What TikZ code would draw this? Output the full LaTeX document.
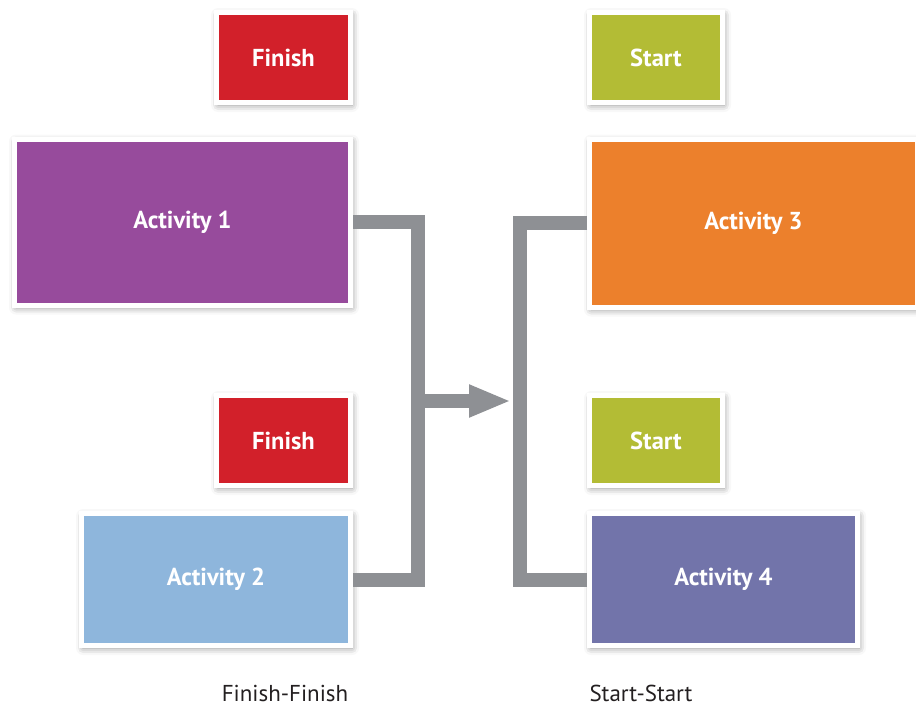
\documentclass[tikz,border=0pt]{standalone}
\usepackage{fontspec}
\setmainfont{PT Sans}
\usetikzlibrary{arrows.meta,shadows.blur}
\definecolor{finred}{HTML}{D2202A}
\definecolor{startgreen}{HTML}{B3BC35}
\definecolor{actpurple}{HTML}{974B9C}
\definecolor{actblue}{HTML}{8EB6DC}
\definecolor{actorange}{HTML}{EC802C}
\definecolor{actviolet}{HTML}{7274AA}
\definecolor{conngray}{HTML}{8E9094}
\definecolor{labelgray}{HTML}{231F20}
\begin{document}
\begin{tikzpicture}[x=1pt,y=-1pt,
  box/.style={rectangle,draw=white,line width=5pt,text=white,font=\fontsize{24.5}{28}\selectfont\bfseries,
    blur shadow={shadow xshift=1.5pt,shadow yshift=-2.5pt,shadow blur radius=7pt,shadow opacity=45}},
  conn/.style={draw=conngray,line width=14pt,line join=miter},
  caption/.style={text=labelgray,font=\fontsize{23}{27}\selectfont}]
\useasboundingbox (0,0) rectangle (916,707);
\node[box,fill=finred,minimum width=134,minimum height=90] (fin1) at (283.5,57.5) {Finish};
\node[box,fill=actpurple,minimum width=336,minimum height=166] (act1) at (182.5,222) {Activity 1};
\node[box,fill=finred,minimum width=134,minimum height=90] (fin2) at (283.5,440.5) {Finish};
\node[box,fill=actblue,minimum width=269,minimum height=132] (act2) at (216,579.5) {Activity 2};
\node[box,fill=startgreen,minimum width=133,minimum height=90] (start1) at (656,57.5) {Start};
\node[box,fill=actorange,minimum width=328,minimum height=168] (act3) at (753.5,223) {Activity 3};
\node[box,fill=startgreen,minimum width=133,minimum height=90] (start2) at (656,440.5) {Start};
\node[box,fill=actviolet,minimum width=268,minimum height=132] (act4) at (723.5,579.5) {Activity 4};
\coordinate (jl) at (418,401);
\coordinate (jr) at (520,401);
\coordinate (tip) at (511,401);
\draw[conn] (act1.east) -| (jl) |- (act2.east);
\draw[conn] (act3.west) -| (jr) |- (act4.west);
\draw[conn,-{Triangle[length=42pt,width=30pt]}] (jl) -- (tip);
\node[caption] (ff) at (285,693) {Finish-Finish};
\node[caption] (ss) at (641,693) {Start-Start};
\end{tikzpicture}
\end{document}
